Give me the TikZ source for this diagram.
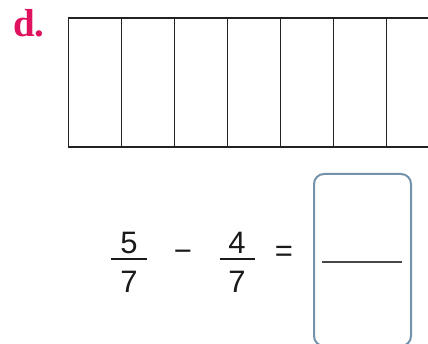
\documentclass[tikz,border=0pt]{standalone}
\usepackage{fontspec}
\setmainfont{Liberation Sans}
\newfontfamily\labelfont{Liberation Serif}
\definecolor{labelpink}{HTML}{E0115F}
\definecolor{boxblue}{HTML}{7393AC}
\definecolor{gridline}{HTML}{222222}
\definecolor{txt}{HTML}{1A1A1A}
\begin{document}
\begin{tikzpicture}[x=1pt,y=-1pt,
  cell/.style={draw=gridline,line width=1.3pt,minimum width=53pt,minimum height=129pt,inner sep=0pt,anchor=north west},
  digit/.style={font=\fontsize{31}{31}\selectfont,text=txt,inner sep=0pt},
  fracbar/.style={draw=txt,line width=1.2pt},
  answerbox/.style={draw=boxblue,line width=2pt,rounded corners=10pt,minimum width=97pt,minimum height=172pt,inner sep=0pt,anchor=north west}]
\useasboundingbox (0,0) rectangle (428,344);
\node[anchor=base west,inner sep=0pt,text=labelpink,font=\labelfont\bfseries\fontsize{39}{39}\selectfont] (lbl) at (13,37) {d.};
\foreach \i in {0,...,6}{
  \node[cell] (c\i) at (68+53*\i,17.3) {};
}
% fraction 5/7
\node[digit] (n1) at (129,243) {5};
\node[digit] (d1) at (129,282) {7};
\coordinate (b1l) at (111,259);
\coordinate (b1r) at (147,259);
\draw[fracbar] (b1l) -- (b1r);
\node[digit] (minus) at (183,256) {−};
% fraction 4/7
\node[digit] (n2) at (237,243) {4};
\node[digit] (d2) at (237,282) {7};
\coordinate (b2l) at (220,259);
\coordinate (b2r) at (255,259);
\draw[fracbar] (b2l) -- (b2r);
\node[digit] (eq) at (284,254) {=};
% answer box
\node[answerbox] (ans) at (313,173) {};
\coordinate (al) at (322,262);
\coordinate (ar) at (402,262);
\draw[draw=txt!80,line width=1.3pt] (al) -- (ar);
\end{tikzpicture}
\end{document}
